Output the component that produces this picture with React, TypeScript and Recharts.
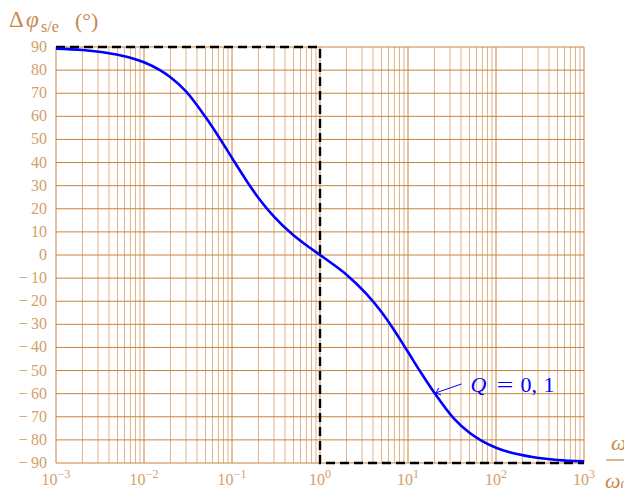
import React from 'react';
import { LineChart, Line, XAxis, YAxis, ReferenceLine, ReferenceDot } from 'recharts';

// Courbe de phase du filtre passe-bande (Q = 0,1)
const ratios = [0.001, 0.002, 0.004, 0.007, 0.01, 0.015, 0.02, 0.03, 0.05, 0.07, 0.1, 0.15, 0.2, 0.3, 0.5, 0.7, 1,
  1.43, 2, 3.33, 5, 6.67, 10, 14.3, 20, 33.3, 50, 66.7, 100, 143, 250, 500, 1000];
const phases = [89.3, 88.7, 87.3, 85.4, 83.4, 80.1, 76.9, 70.8, 59.7, 51.4, 42.0, 31.5, 24.7, 16.6, 8.5, 4.2, 0,
  -4.2, -8.5, -16.6, -24.7, -31.5, -42.0, -51.4, -59.7, -70.8, -76.9, -80.1, -83.4, -85.4, -87.3, -88.7, -89.3];

// Asymptotes en pointillés
const asymRatios = [0.001, 1, 1, 1000];
const asymPhases = [90, 90, -90, -90];

const decades = [0.001, 0.01, 0.1, 1, 10, 100, 1000];
const decadeExps = ['−3', '−2', '−1', '0', '1', '2', '3'];
const minorSteps = [2, 3, 4, 5, 6, 7, 8, 9];
const phaseTicks = [-90, -80, -70, -60, -50, -40, -30, -20, -10, 0, 10, 20, 30, 40, 50, 60, 70, 80, 90];

const curve = ratios.map((x, i) => ({ x, phase: phases[i] }));
const asym = asymRatios.map((x, i) => ({ x, phase: asymPhases[i] }));
const minorLines = decades.slice(0, -1).flatMap((d) => minorSteps.map((k) => k * d));

const MAJOR = '#c8843f';
const MINOR = '#dfb48a';
const TICK = '#d39e6a';
const LABEL = '#c8884c';
const FONT = '"Liberation Serif", "DejaVu Serif", serif';

const XTick = (props: any) => {
  const { x, payload, index } = props;
  const exp = decadeExps[decades.indexOf(payload.value)] ?? decadeExps[index];
  return (
    <text x={x} y={485} textAnchor="middle" fill={TICK} fontFamily={FONT} fontSize={16}>
      <tspan>10</tspan>
      <tspan dy={-7} fontSize={12}>{exp}</tspan>
    </text>
  );
};

const YTick = (props: any) => {
  const { y, payload } = props;
  const v = payload.value as number;
  const txt = v < 0 ? `−\u2009${-v}` : `${v}`;
  return (
    <text x={47} y={y + 5} textAnchor="end" fill={TICK} fontFamily={FONT} fontSize={16}>
      {txt}
    </text>
  );
};

// Flèche + étiquette « Q = 0,1 » pointant sur la courbe
const QLabel = (props: any) => {
  const { cx, cy } = props;
  const tx = cx + 27;
  const ty = cy - 9;
  return (
    <g>
      <line x1={tx} y1={ty} x2={cx + 1} y2={cy} stroke="#0000ff" strokeWidth={1} />
      <path
        d={`M ${cx + 6.6} ${cy + 2.1} Q ${cx + 3} ${cy + 0.3} ${cx + 1} ${cy} Q ${cx + 3} ${cy - 1.5} ${cx + 4.1} ${cy - 5.1}`}
        fill="none"
        stroke="#0000ff"
        strokeWidth={1}
      />
      <text y={cy - 1} fill="#0000ff" fontFamily={FONT} fontSize={22}>
        <tspan x={cx + 36} fontStyle="italic">Q</tspan>
        <tspan x={cx + 62} textLength={17} lengthAdjust="spacingAndGlyphs">=</tspan>
        <tspan x={cx + 86}>0,</tspan>
        <tspan x={cx + 109}>1</tspan>
      </text>
    </g>
  );
};

export default function App() {
  return (
    <div style={{ position: 'absolute', left: 0, top: 0, width: 624, height: 488, background: '#fff' }}>
      <LineChart width={624} height={488} margin={{ top: 47, right: 40, bottom: 0, left: 0 }}>
        <XAxis
          dataKey="x"
          type="number"
          scale="log"
          domain={[0.001, 1000]}
          ticks={decades}
          axisLine={false}
          tickLine={false}
          height={25}
          tick={<XTick />}
          interval={0}
        />
        <YAxis
          type="number"
          domain={[-90, 90]}
          ticks={phaseTicks}
          axisLine={false}
          tickLine={false}
          width={56}
          tick={<YTick />}
          interval={0}
        />
        {minorLines.map((v) => (
          <ReferenceLine key={`m${v}`} x={v} stroke={MINOR} strokeWidth={1} />
        ))}
        {decades.map((v) => (
          <ReferenceLine key={`d${v}`} x={v} stroke={MAJOR} strokeWidth={1} />
        ))}
        {phaseTicks.map((v) => (
          <ReferenceLine key={`h${v}`} y={v} stroke={MAJOR} strokeWidth={1} />
        ))}
        <Line
          data={asym}
          dataKey="phase"
          type="linear"
          stroke="#000"
          strokeWidth={2.4}
          strokeDasharray="9 5"
          dot={false}
          isAnimationActive={false}
        />
        <Line
          data={curve}
          dataKey="phase"
          type="monotone"
          stroke="#0000ff"
          strokeWidth={2.6}
          dot={false}
          isAnimationActive={false}
        />
        <ReferenceDot x={20} y={-59.7} r={0} shape={<QLabel />} />
      </LineChart>
      <svg width={624} height={488} style={{ position: 'absolute', left: 0, top: 0, pointerEvents: 'none' }}>
        <text y={27} fill={LABEL} fontFamily={FONT} fontSize={23}>
          <tspan x={9}>Δ</tspan>
          <tspan x={26} fontStyle="italic">φ</tspan>
        </text>
        <text x={41} y={32} fill={LABEL} fontFamily={FONT} fontSize={16}>s/e</text>
        <text x={75} y={28} fill={LABEL} fontFamily={FONT} fontSize={22}>(°)</text>
        <text x={611} y={450} fill={LABEL} fontFamily={FONT} fontSize={22} fontStyle="italic">ω</text>
        <line x1={606} y1={460} x2={624} y2={460} stroke={LABEL} strokeWidth={1.2} />
        <text x={605} y={488} fill={LABEL} fontFamily={FONT} fontSize={22}>
          <tspan fontStyle="italic">ω</tspan>
          <tspan dy={3} fontSize={15}>0</tspan>
        </text>
      </svg>
    </div>
  );
}
